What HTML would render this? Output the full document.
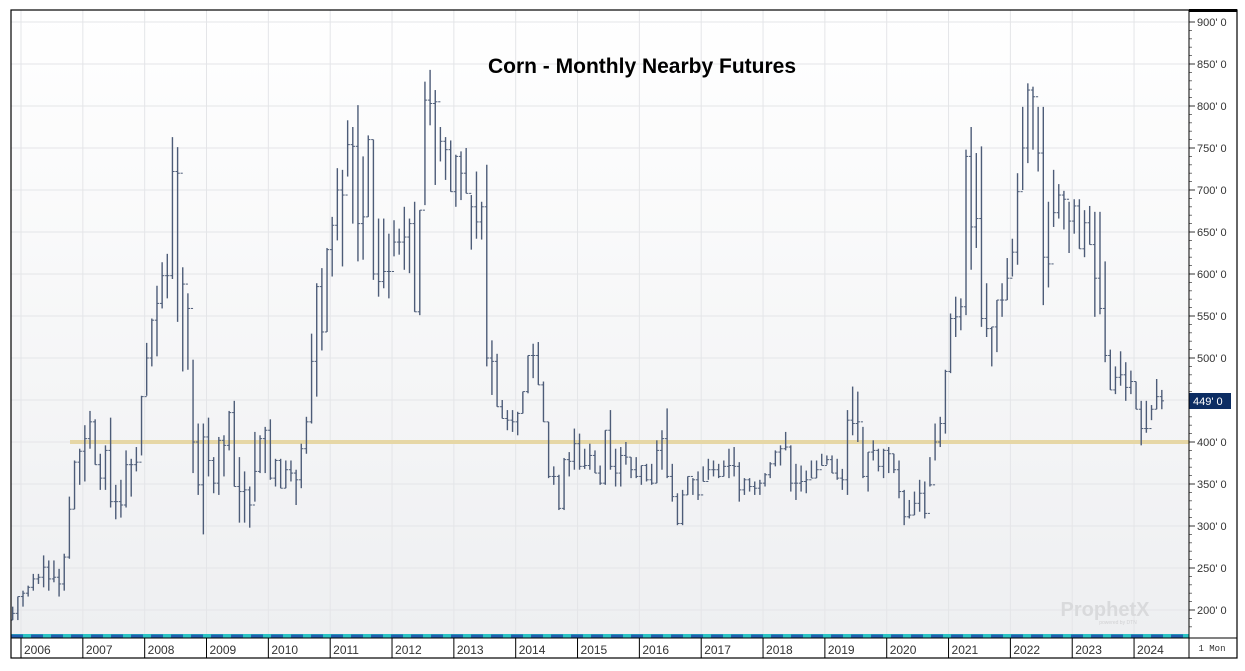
<!DOCTYPE html>
<html><head><meta charset="utf-8">
<style>
html,body{margin:0;padding:0;background:#fff;}
svg{display:block;font-family:"Liberation Sans",sans-serif;}
</style></head>
<body>
<svg id="chart" width="1245" height="671" viewBox="0 0 1245 671" xmlns="http://www.w3.org/2000/svg">
<defs>
<linearGradient id="bg" x1="0" y1="0" x2="0" y2="1">
<stop offset="0" stop-color="#ffffff"/><stop offset="1" stop-color="#eeeff1"/>
</linearGradient>
</defs>
<rect x="11" y="10" width="1178" height="624" fill="url(#bg)"/>
<g id="grid"></g>
<line id="support" stroke="#e6d7a6" stroke-width="4"/>
<g id="bars"></g>
<text x="642" y="73" text-anchor="middle" font-size="21" font-weight="bold" fill="#000">Corn - Monthly Nearby Futures</text>
<text x="1105" y="616" text-anchor="middle" font-size="20" font-weight="bold" fill="#d9dadc">ProphetX</text>
<text x="1118" y="624" text-anchor="middle" font-size="5" fill="#d0d0d2">powered by DTN</text>
<rect x="11" y="634" width="1178" height="4" fill="#2bc4c4"/>
<line x1="11" y1="636" x2="1189" y2="636" stroke="#1f5fae" stroke-width="3" stroke-dasharray="12 8"/>
<g id="xaxis"></g>
<g id="yaxis"></g>
<rect x="1189" y="393" width="42" height="16" fill="#0c2d63"/>
<text id="lastLabel" x="1193" y="405" font-size="11" fill="#fff">449' 0</text>
<text x="1212" y="651" text-anchor="middle" font-size="9" font-family="Liberation Mono, monospace" fill="#333">1 Mon</text>
<rect x="11" y="10" width="1226" height="648" fill="none" stroke="#000" stroke-width="1.2"/>
<line x1="1189" y1="10" x2="1189" y2="658" stroke="#000" stroke-width="1"/>
<line x1="11" y1="638" x2="1237" y2="638" stroke="#000" stroke-width="1"/>
<line x1="1189" y1="10.5" x2="1237" y2="10.5" stroke="#000" stroke-width="3"/>
</svg>
<script>
const highs = [204,216,223,229,243,243,265,259,259,249,267,335,378,392,420,437,427,386,396,429,349,355,390,380,394,455,518,547,586,614,624,763,751,608,577,498,422,422,429,382,406,408,437,449,382,365,347,412,408,418,427,380,380,378,378,367,
398,430,529,589,607,631,668,726,724,783,775,801,740,765,760,666,666,648,664,654,680,666,686,676,829,843,819,775,763,759,742,746,750,694,722,686,730,521,505,450,438,438,436,460,503,517,519,472,
424,371,361,381,388,416,410,392,398,390,372,414,438,392,394,400,382,382,372,374,374,402,414,440,374,339,343,359,357,365,371,380,378,374,378,392,394,376,357,357,353,355,363,376,390,396,412,
396,374,372,366,378,378,386,384,384,380,368,438,466,460,418,388,402,392,392,394,386,378,343,331,341,355,353,382,422,430,
486,553,573,571,748,775,744,752,589,537,569,589,619,642,720,799,827,823,799,799,
686,724,707,699,686,689,689,676,681,674,674,615,510,490,508,495,485,472,449,449,444,475,462];
const lows = [188,188,204,216,223,231,227,223,233,216,223,261,320,349,353,392,373,343,343,322,308,310,322,335,365,384,455,490,502,559,571,594,543,484,486,363,337,290,359,339,337,359,390,347,304,304,298,329,363,363,355,347,345,345,353,325,
345,386,422,454,509,531,597,640,609,716,660,615,617,668,593,573,583,571,621,623,605,601,555,551,682,777,706,734,712,698,680,688,696,629,642,641,490,456,442,428,414,412,408,434,458,476,468,424,
357,349,319,319,359,367,367,368,367,363,349,349,367,347,347,373,357,357,349,353,349,351,367,357,329,301,301,337,337,331,353,355,359,357,359,357,359,329,337,341,337,337,347,357,371,372,390,
341,331,341,339,357,357,372,373,363,355,343,337,408,400,357,341,378,365,357,363,363,333,301,309,313,317,309,347,378,394,
410,482,525,533,551,605,631,537,525,490,507,549,569,597,611,700,732,748,722,563,
584,656,666,653,625,648,630,620,635,549,552,495,462,457,467,449,457,439,396,411,426,439,439];
const closes = [196,216,220,227,237,239,251,237,239,231,263,320,376,389,404,424,373,357,390,329,329,325,373,373,376,454,500,545,565,598,598,722,720,588,559,400,349,406,378,351,402,396,435,347,341,343,325,365,404,414,357,378,345,367,363,355,
392,424,496,585,531,629,658,700,694,754,752,660,668,760,600,591,603,603,638,638,644,660,555,676,807,803,805,758,748,698,740,720,696,680,662,680,500,496,442,428,426,424,434,460,503,503,468,424,
359,359,321,379,377,398,371,372,384,363,351,414,371,363,384,382,367,359,372,355,351,390,404,359,335,303,337,359,355,337,353,367,367,359,371,372,371,343,355,347,345,351,361,374,388,392,394,
351,351,353,355,357,367,372,379,363,357,355,426,422,424,359,388,390,371,390,386,367,341,311,313,327,339,315,349,400,422,
484,547,549,561,740,656,666,547,535,537,569,569,595,626,698,750,819,811,744,620,
612,673,694,689,663,681,630,661,635,595,559,503,462,477,480,465,472,439,416,416,439,454,449];
const yTicks = [200,250,300,350,400,450,500,550,600,650,700,750,800,850,900];
const yearLabels = ["2006","2007","2008","2009","2010","2011","2012","2013","2014","2015","2016","2017","2018","2019","2020","2021","2022","2023","2024"];
const supportLevel = 400;
const firstYearIndex = 2; // index of Jan 2006 bar (data begins Nov 2005)

const NS = "http://www.w3.org/2000/svg";
const X0 = 12.7, STEP = 5.153;
function xScale(i){ return X0 + i*STEP; }
function yScale(v){ return 610 - (v-200)*0.84; }
function mk(tag, attrs, parent){
  const e = document.createElementNS(NS, tag);
  for (const k in attrs) e.setAttribute(k, attrs[k]);
  parent.appendChild(e); return e;
}
const grid = document.getElementById('grid');
const xaxis = document.getElementById('xaxis');
const yaxis = document.getElementById('yaxis');
const bars = document.getElementById('bars');

yTicks.forEach(v=>{
  const y = yScale(v);
  const g = mk('line',{x1:11,x2:1189,y1:y,y2:y,stroke:'#e4e5e8','stroke-width':1},grid);
  
  
  const t = mk('line',{x1:1189,x2:1195,y1:y,y2:y,stroke:'#333','stroke-width':1},yaxis);
  
  
  const lbl = mk('text',{x:1197,y:y+4,'font-size':11,fill:'#333'},yaxis);
  lbl.textContent = v + "' 0";
  
  
});
for (let v=180; v<=900; v+=10){
  if (v%50===0) continue;
  const y = yScale(v);
  const m = mk('line',{x1:1189,x2:1192,y1:y,y2:y,stroke:'#555','stroke-width':0.8},yaxis);
  
  
}
yearLabels.forEach((yr,k)=>{
  const x = xScale(firstYearIndex + k*12) - 2;
  const g = mk('line',{x1:x,x2:x,y1:10,y2:634,stroke:'#e4e5e8','stroke-width':1},grid);
  
  
  const t = mk('line',{x1:x,x2:x,y1:638,y2:658,stroke:'#000','stroke-width':1},xaxis);
  
  
  const lbl = mk('text',{x:x+3,y:654,'font-size':12,fill:'#333'},xaxis);
  lbl.textContent = yr;
  
  
});
const sup = document.getElementById('support');
sup.setAttribute('x1', 70); sup.setAttribute('x2', 1189);
sup.setAttribute('y1', yScale(supportLevel)); sup.setAttribute('y2', yScale(supportLevel));

for (let i=0;i<highs.length;i++){
  const x = xScale(i);
  const open = i>0 ? closes[i-1] : lows[i];
  const g = mk('g',{stroke:'#4d5c78','stroke-width':1.4},bars);
  
  
  mk('line',{x1:x,x2:x,y1:yScale(highs[i]),y2:yScale(lows[i])},g);
  mk('line',{x1:x-2.2,x2:x,y1:yScale(open),y2:yScale(open),'stroke-width':1},g);
  mk('line',{x1:x,x2:x+2.2,y1:yScale(closes[i]),y2:yScale(closes[i]),'stroke-width':1},g);
}
const last = closes[closes.length-1];
document.getElementById('lastLabel').textContent = last + "' 0";
</script>
</body></html>
